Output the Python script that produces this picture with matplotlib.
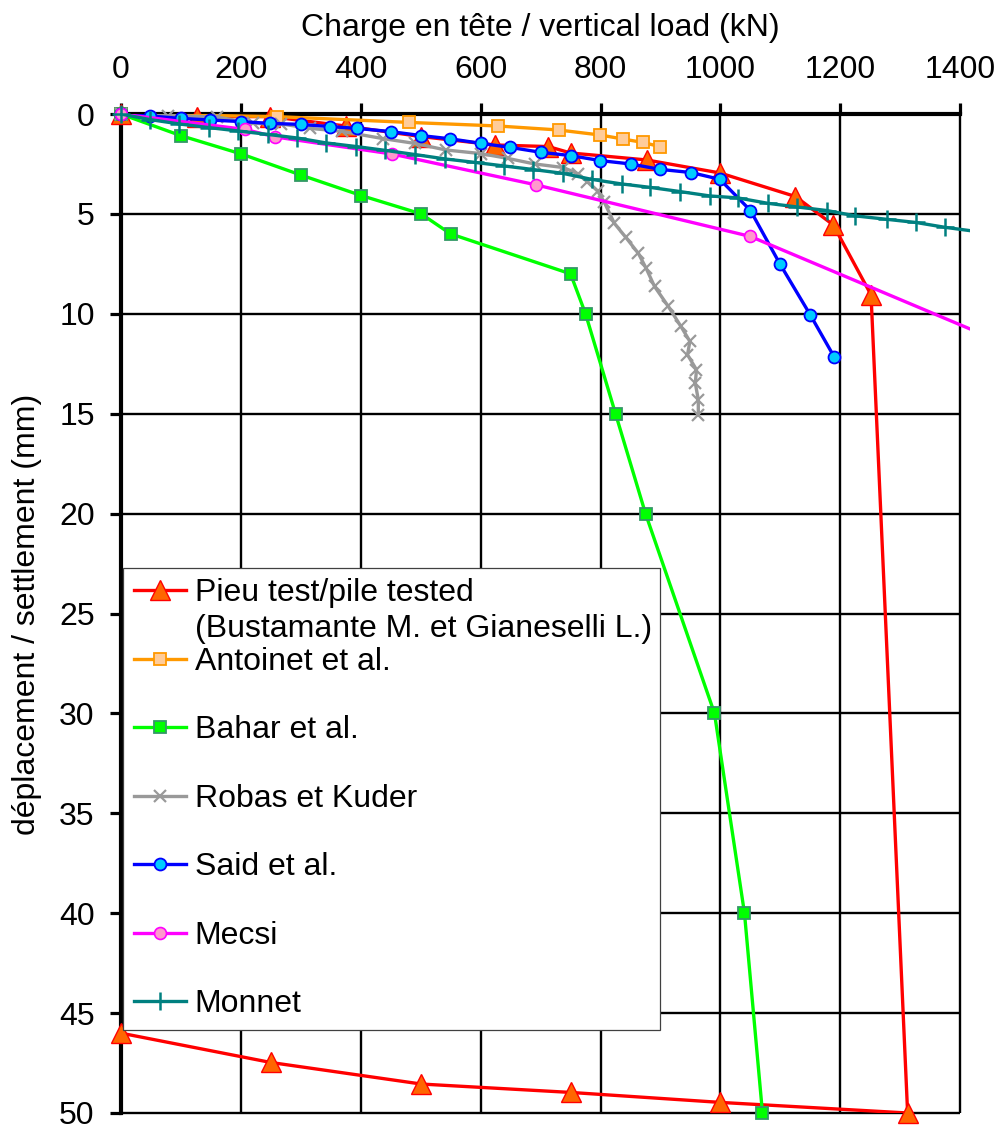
import matplotlib
matplotlib.use('Agg')
import matplotlib.pyplot as plt
from matplotlib.patches import Rectangle
from matplotlib.lines import Line2D
import numpy as np

plt.rcParams['font.family'] = ['Liberation Sans', 'DejaVu Sans']

# ---------------- data ----------------
x_ticks = [0, 200, 400, 600, 800, 1000, 1200, 1400]
y_ticks = [0, 5, 10, 15, 20, 25, 30, 35, 40, 45, 50]

pieu_load = [0, 127, 249, 375, 501, 624, 713, 750, 877, 999, 1125, 1188, 1251, 1312,
             1000, 750, 501, 250, 0]
pieu_settle = [0.0, 0.13, 0.13, 0.6, 1.13, 1.55, 1.63, 1.95, 2.3, 2.95, 4.13, 5.55, 9.05, 50.0,
               49.47, 48.97, 48.55, 47.47, 46.0]

antoinet_load = [0, 260, 480, 629, 730, 799, 837, 870, 899]
antoinet_settle = [0.0, 0.13, 0.42, 0.6, 0.8, 1.05, 1.25, 1.42, 1.63]

bahar_load = [0, 100, 201, 300, 401, 501, 550, 750, 775, 825, 875, 990, 1040, 1070]
bahar_settle = [0.0, 1.08, 2.0, 3.05, 4.08, 5.0, 6.0, 8.0, 10.0, 15.0, 20.0, 30.0, 40.0, 50.0]

robas_load = [0, 79, 160, 221, 268, 316, 369, 437, 490, 542, 600, 645, 690, 738, 763, 778,
              795, 806, 823, 842, 863, 876, 890, 913, 934, 949, 945, 960, 958, 963, 963]
robas_settle = [0.0, 0.08, 0.15, 0.47, 0.5, 0.72, 0.87, 1.23, 1.47, 1.8, 1.98, 2.22, 2.5, 2.68,
                3.0, 3.38, 3.85, 4.4, 5.47, 6.17, 6.97, 7.72, 8.63, 9.63, 10.63, 11.38, 12.05,
                12.8, 13.47, 14.3, 15.05]

said_load = [0, 49, 100, 149, 201, 249, 300, 349, 394, 450, 501, 549, 601, 649, 701, 750, 799,
             850, 899, 951, 999, 1050, 1099, 1150, 1190]
said_settle = [0.0, 0.1, 0.22, 0.3, 0.38, 0.47, 0.52, 0.63, 0.72, 0.88, 1.08, 1.24, 1.47, 1.67,
               1.92, 2.08, 2.33, 2.5, 2.77, 2.93, 3.27, 4.83, 7.5, 10.07, 12.18]

mecsi_load = [0, 207, 258, 452, 693, 1050, 1500]
mecsi_settle = [0.0, 0.77, 1.15, 2.0, 3.55, 6.13, 11.82]

monnet_load = [0, 49, 98, 147, 196, 245, 294, 343, 393, 441, 491, 541, 590, 639, 688, 737,
               785, 835, 882, 932, 982, 1029, 1079, 1127, 1177, 1225, 1277, 1326, 1374, 1424]
monnet_settle = [0.0, 0.28, 0.5, 0.68, 0.85, 1.02, 1.2, 1.45, 1.63, 1.82, 2.03, 2.25, 2.42,
                 2.6, 2.78, 2.97, 3.27, 3.5, 3.67, 3.88, 4.1, 4.2, 4.47, 4.65, 4.83, 5.1, 5.27,
                 5.43, 5.67, 5.87]

labels = ["Pieu test/pile tested", "Antoinet et al.", "Bahar et al.", "Robas et Kuder",
          "Said et al.", "Mecsi", "Monnet"]
label_extra = "(Bustamante M. et Gianeselli L.)"
x_title = "Charge en tête / vertical load (kN)"
y_title = "déplacement / settlement (mm)"

series = [
    (pieu_load, pieu_settle, dict(color='#FF0000', marker='^', ms=14, mfc='#FF6600', mec='#FF0000', mew=1.0)),
    (antoinet_load, antoinet_settle, dict(color='#FF9900', marker='s', ms=8.4, mfc='#FFCC99', mec='#FF9900', mew=1.3)),
    (bahar_load, bahar_settle, dict(color='#00FF00', marker='s', ms=8.6, mfc='#00FF00', mec='#339966', mew=1.3)),
    (robas_load, robas_settle, dict(color='#999999', marker='x', ms=8.5, mfc='#999999', mec='#999999', mew=1.6)),
    (said_load, said_settle, dict(color='#0000FF', marker='o', ms=8.6, mfc='#00CCFF', mec='#0000FF', mew=1.3)),
    (mecsi_load, mecsi_settle, dict(color='#FF00FF', marker='o', ms=8.6, mfc='#FF99CC', mec='#FF00FF', mew=1.2)),
    (monnet_load, monnet_settle, dict(color='#008080', marker='+', ms=12.5, mfc='#008080', mec='#008080', mew=1.8)),
]

# ---------------- figure ----------------
W, H = 1000, 1126
fig = plt.figure(figsize=(W / 100, H / 100), dpi=100)
ax = fig.add_axes([120.7 / W, 1 - 1113 / H, 849.3 / W, 999 / H])
ax.set_xlim(0, 1416)
ax.set_ylim(50, 0)

# grid
ax.vlines(x_ticks, 0, 50, colors='black', lw=1.7, zorder=1, clip_on=False)
ax.hlines(y_ticks, 0, 1400, colors='black', lw=1.7, zorder=1, clip_on=False)

handles = []
for i, (xs, ys, st) in enumerate(series):
    xs = np.asarray(xs, float)
    ys = np.asarray(ys, float)
    z = 3 + 2 * i
    ax.plot(xs, ys, color=st['color'], lw=2.4, zorder=z, solid_joinstyle='round')
    keep = xs <= 1400
    ax.plot(xs[keep], ys[keep], ls='none', marker=st['marker'], ms=st['ms'],
            mfc=st['mfc'], mec=st['mec'], mew=st['mew'], clip_on=False, zorder=z + 1)
    handles.append(Line2D([], [], color=st['color'], lw=2.4, marker=st['marker'], ms=st['ms'],
                          mfc=st['mfc'], mec=st['mec'], mew=st['mew']))

# spines & ticks
for s in ['right', 'bottom']:
    ax.spines[s].set_visible(False)
ax.spines['top'].set_linewidth(3)
ax.spines['left'].set_linewidth(3)
ax.spines['top'].set_bounds(0, 1400)
ax.spines['top'].set_zorder(2)
ax.xaxis.tick_top()
ax.set_xticks(x_ticks)
ax.set_yticks(y_ticks)
ax.tick_params(axis='x', direction='out', length=8, width=2.3, pad=13, labelsize=23)
ax.tick_params(axis='y', direction='out', length=7.7, width=2.3, pad=11, labelsize=23)

fig.text(540 / W, 1 - 36 / H, x_title, ha='center', va='baseline', fontsize=23)
fig.text(27 / W, 1 - 614 / H, y_title, rotation=90, ha='center', va='center', fontsize=23)

# legend
frame = Rectangle((123 / W, 1 - 1030 / H), (660 - 123) / W, (1030 - 568) / H,
                  transform=fig.transFigure, fc='white', ec='#404040', lw=0.9,
                  zorder=20, clip_on=False)
ax.add_patch(frame)
fs = 23
leg = ax.legend(handles, labels, loc='upper left',
                bbox_to_anchor=((134 - 120.7) / 849.3, 1 - (577.5 - 113) / 999),
                bbox_transform=ax.transAxes, frameon=False, fontsize=fs,
                labelspacing=1.205, handlelength=1.63, handletextpad=0.27,
                borderpad=0, borderaxespad=0, numpoints=1)
leg.set_zorder(30)

fig.canvas.draw()
bb = leg.get_texts()[0].get_window_extent()
ax.text(bb.x0 / W, (bb.y0 - 28.5) / H, label_extra, transform=fig.transFigure,
        ha='left', va='baseline', fontsize=fs, zorder=31)

fig.savefig('out.png', dpi=100)
